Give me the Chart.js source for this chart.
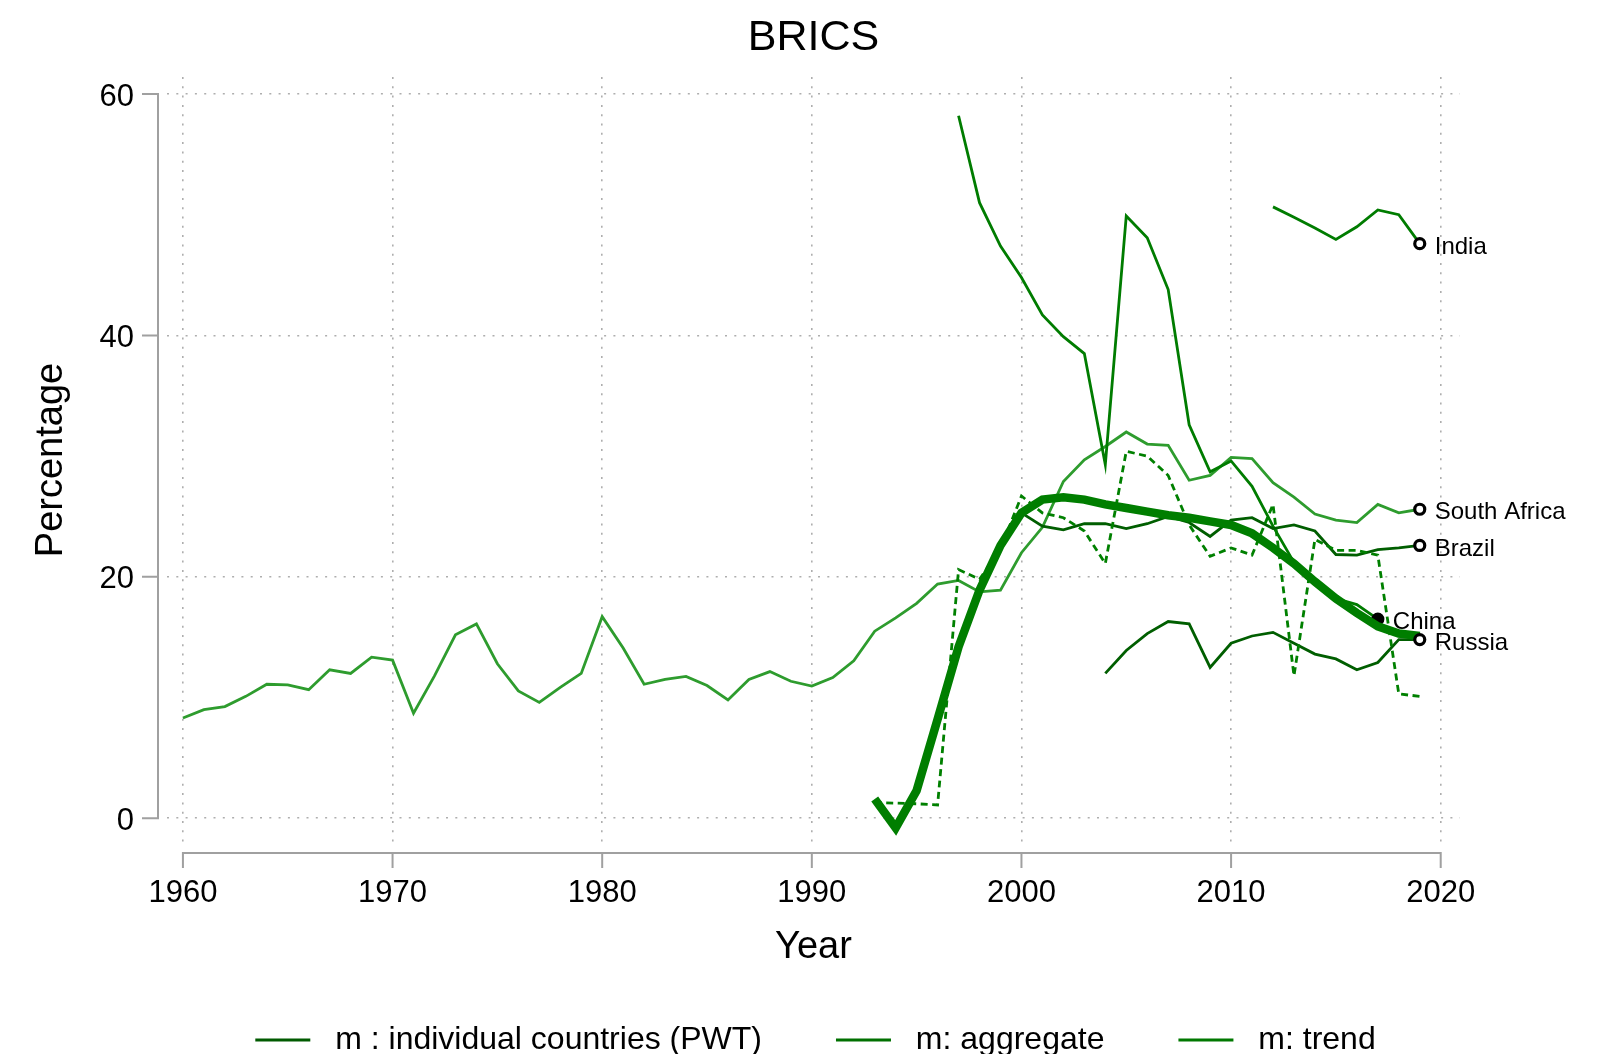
<!DOCTYPE html>
<html><head><meta charset="utf-8">
<script src="https://cdn.jsdelivr.net/npm/chart.js@4.4.1/dist/chart.umd.min.js"></script>
<style>html,body{margin:0;padding:0;background:#fff;overflow:hidden}canvas{display:block}</style>
</head><body>
<canvas id="c" width="1603" height="1054"></canvas>
<script>
// ---------- data ----------
const xTicks = [1960, 1970, 1980, 1990, 2000, 2010, 2020];
const yTicks = [0, 20, 40, 60];

const southAfricaStart = 1960;
const southAfricaValues = [8.3, 9.0, 9.25, 10.1, 11.1, 11.05, 10.65, 12.3, 12.0, 13.35,
  13.1, 8.7, 11.8, 15.2, 16.1, 12.8, 10.55, 9.6, 10.85, 12.0,
  16.7, 14.1, 11.1, 11.5, 11.75, 11.0, 9.8, 11.5, 12.15, 11.35,
  10.95, 11.65, 13.05, 15.5, 16.6, 17.8, 19.4, 19.7, 18.75, 18.9,
  22.0, 24.1, 27.9, 29.7, 30.8, 32.0, 31.0, 30.9, 28.0, 28.4,
  29.9, 29.8, 27.8, 26.6, 25.2, 24.7, 24.5, 26.0, 25.3, 25.6];

const chinaStart = 1997;
const chinaValues = [58.2, 51.0, 47.4, 44.8, 41.7, 39.9, 38.5, 29.3, 49.9, 48.1,
  43.8, 32.6, 28.7, 29.6, 27.5, 24.2, 21.2, 19.4, 18.2, 17.7, 16.5];

const indiaStart = 2012;
const indiaValues = [50.65, 49.8, 48.9, 47.95, 49.0, 50.4, 50.0, 47.6];

const brazilStart = 2000;
const brazilValues = [25.3, 24.2, 23.9, 24.4, 24.4, 24.0, 24.4, 25.0, 24.5, 23.35,
  24.7, 24.9, 24.0, 24.3, 23.8, 21.85, 21.8, 22.25, 22.4, 22.6];

const russiaStart = 2004;
const russiaValues = [12.0, 13.9, 15.3, 16.3, 16.1, 12.5, 14.5, 15.1, 15.4, 14.5,
  13.6, 13.2, 12.3, 12.9, 14.8, 14.8];

const aggregateStart = 1993;
const aggregateValues = [1.3, 1.25, 1.2, 1.1, 20.6, 19.8, 22.3, 26.7, 25.3, 24.9,
  23.8, 21.1, 30.4, 30.0, 28.4, 24.3, 21.7, 22.4, 21.8, 26.0,
  11.8, 23.1, 22.2, 22.2, 21.8, 10.3, 10.1];

const trendStart = 1993;
const trendValues = [1.6, -0.8, 2.3, 8.2, 14.2, 18.9, 22.6, 25.3, 26.4, 26.6,
  26.4, 26.0, 25.7, 25.4, 25.1, 24.9, 24.6, 24.3, 23.6, 22.4,
  21.1, 19.6, 18.2, 17.0, 15.9, 15.3, 15.1];

const countryLabels = ['India', 'South Africa', 'Brazil', 'China', 'Russia'];
const legendLabels = ['m : individual countries (PWT)', 'm: aggregate', 'm: trend'];

// ---------- styles ----------
const FONT = "'Liberation Sans', Arial, Helvetica, sans-serif";
const C_LIGHT = 'rgb(46,156,46)';
const C_MED = 'rgb(0,124,0)';
const C_DARK = 'rgb(0,94,0)';
const C_AGG = 'rgb(0,128,0)';
const C_TREND = 'rgb(0,126,0)';
const legendColors = ['rgb(0,90,0)', 'rgb(0,112,0)', 'rgb(0,120,0)'];

function years(start, vals) { return vals.map((v, i) => ({ x: start + i, y: v })); }
function lastPoint(start, vals) { return [{ x: start + vals.length - 1, y: vals[vals.length - 1] }]; }

function lineDs(data, color, width, order, dash) {
  return { type: 'line', data, borderColor: color, backgroundColor: color, borderWidth: width,
    pointRadius: 0, pointHoverRadius: 0, fill: false, tension: 0, order, borderDash: dash || [] };
}
function markerDs(data, fill, order, label) {
  return { type: 'line', data, showLine: false, pointRadius: 5, pointHoverRadius: 5,
    pointBorderWidth: 3.2, pointBorderColor: '#000', pointBackgroundColor: fill,
    borderColor: '#000', backgroundColor: fill, order, markerLabel: label };
}

const datasets = [
  lineDs(years(southAfricaStart, southAfricaValues), C_LIGHT, 2.8, 20),
  lineDs(years(chinaStart, chinaValues), C_MED, 2.8, 19),
  lineDs(years(indiaStart, indiaValues), C_MED, 2.8, 18),
  lineDs(years(brazilStart, brazilValues), C_DARK, 2.8, 17),
  lineDs(years(russiaStart, russiaValues), C_DARK, 2.8, 16),
  markerDs(lastPoint(chinaStart, chinaValues), '#000', 15, countryLabels[3]),
  lineDs(years(aggregateStart, aggregateValues), C_AGG, 2.8, 14, [7, 4.5]),
  lineDs(years(trendStart, trendValues), C_TREND, 8.5, 13),
  markerDs(lastPoint(indiaStart, indiaValues), '#fff', 5, countryLabels[0]),
  markerDs(lastPoint(southAfricaStart, southAfricaValues), '#fff', 5, countryLabels[1]),
  markerDs(lastPoint(brazilStart, brazilValues), '#fff', 5, countryLabels[2]),
  markerDs(lastPoint(russiaStart, russiaValues), '#fff', 5, countryLabels[4])
];

// Draws Stata-style detached axis lines with outer ticks
const axesPlugin = {
  id: 'stataAxes',
  afterDraw(chart) {
    const { ctx, chartArea } = chart;
    const xs = chart.scales.x, ys = chart.scales.y;
    ctx.save();
    ctx.strokeStyle = '#a0a0a0';
    ctx.lineWidth = 2;
    ctx.lineCap = 'butt';
    const ax = chartArea.left - 9;
    const y0 = ys.getPixelForValue(yTicks[0]), y1 = ys.getPixelForValue(yTicks[yTicks.length - 1]);
    ctx.beginPath();
    ctx.moveTo(ax, y0 + 1); ctx.lineTo(ax, y1 - 1);
    yTicks.forEach(v => { const p = ys.getPixelForValue(v); ctx.moveTo(ax, p); ctx.lineTo(ax - 16, p); });
    ctx.stroke();
    const ay = chartArea.bottom + 10;
    const x0 = xs.getPixelForValue(xTicks[0]), x1 = xs.getPixelForValue(xTicks[xTicks.length - 1]);
    ctx.beginPath();
    ctx.moveTo(x0 - 1, ay); ctx.lineTo(x1 + 1, ay);
    xTicks.forEach(v => { const p = xs.getPixelForValue(v); ctx.moveTo(p, ay); ctx.lineTo(p, ay + 15); });
    ctx.stroke();
    ctx.restore();
  }
};

// Country name labels next to end markers
const labelPlugin = {
  id: 'countryLabels',
  afterDatasetsDraw(chart) {
    const { ctx } = chart;
    ctx.save();
    ctx.font = '24px ' + FONT;
    ctx.fillStyle = '#000';
    ctx.textAlign = 'left';
    ctx.textBaseline = 'middle';
    chart.data.datasets.forEach((ds, i) => {
      if (!ds.markerLabel) return;
      const el = chart.getDatasetMeta(i).data[0];
      if (el) ctx.fillText(ds.markerLabel, el.x + 15, el.y + 3.5);
    });
    ctx.restore();
  }
};

const tickFont = { family: FONT, size: 31 };
const gridCfg = { color: 'rgba(160,160,160,0.85)', lineWidth: 1.6, drawTicks: false };
const borderCfg = { display: false, dash: [2, 7.3] };

new Chart(document.getElementById('c'), {
  type: 'line',
  data: { datasets },
  options: {
    responsive: false,
    animation: false,
    devicePixelRatio: 1,
    layout: { padding: { left: 28, right: 0, top: 0, bottom: 0 } },
    events: [],
    plugins: {
      tooltip: { enabled: false },
      title: {
        display: true, text: 'BRICS', fullSize: false, color: '#000',
        font: { family: FONT, size: 43, weight: 'normal' },
        padding: { top: 12, bottom: 13.4 }
      },
      legend: {
        display: true, position: 'bottom', align: 'center', maxHeight: 104,
        onClick: null,
        labels: {
          font: { family: FONT, size: 32 }, color: '#000',
          boxWidth: 55, boxHeight: 3, padding: 74,
          generateLabels: () => legendLabels.map((t, i) => ({
            text: ' ' + t, fillStyle: legendColors[i], strokeStyle: legendColors[i],
            lineWidth: 0, hidden: false, datasetIndex: i
          }))
        }
      }
    },
    scales: {
      x: {
        type: 'linear', position: 'bottom', min: 1959.24, max: 2020.92,
        afterBuildTicks: s => { s.ticks = xTicks.map(v => ({ value: v })); },
        afterFit: s => { s.height = 107; },
        ticks: { font: tickFont, color: '#000', padding: 32, autoSkip: false, maxRotation: 0,
          callback: v => String(v) },
        grid: gridCfg, border: borderCfg,
        title: { display: true, text: 'Year', color: '#000',
          font: { family: FONT, size: 38 }, padding: { top: 0, bottom: -20.8 } }
      },
      y: {
        type: 'linear', position: 'left', min: -2.05, max: 61.41,
        afterBuildTicks: s => { s.ticks = yTicks.map(v => ({ value: v })); },
        afterFit: s => { s.width = 139; },
        ticks: { font: tickFont, color: '#000', padding: 33, autoSkip: false, labelOffset: 3,
          callback: v => String(v) },
        grid: gridCfg, border: borderCfg,
        title: { display: true, text: 'Percentage', color: '#000',
          font: { family: FONT, size: 38 }, padding: { top: 0.5, bottom: 0 } }
      },
      yRight: {
        type: 'linear', position: 'right', display: true,
        afterFit: s => { s.width = 143; },
        ticks: { display: false }, grid: { display: false }, border: { display: false }
      }
    }
  },
  plugins: [axesPlugin, labelPlugin]
});
</script>
</body></html>
